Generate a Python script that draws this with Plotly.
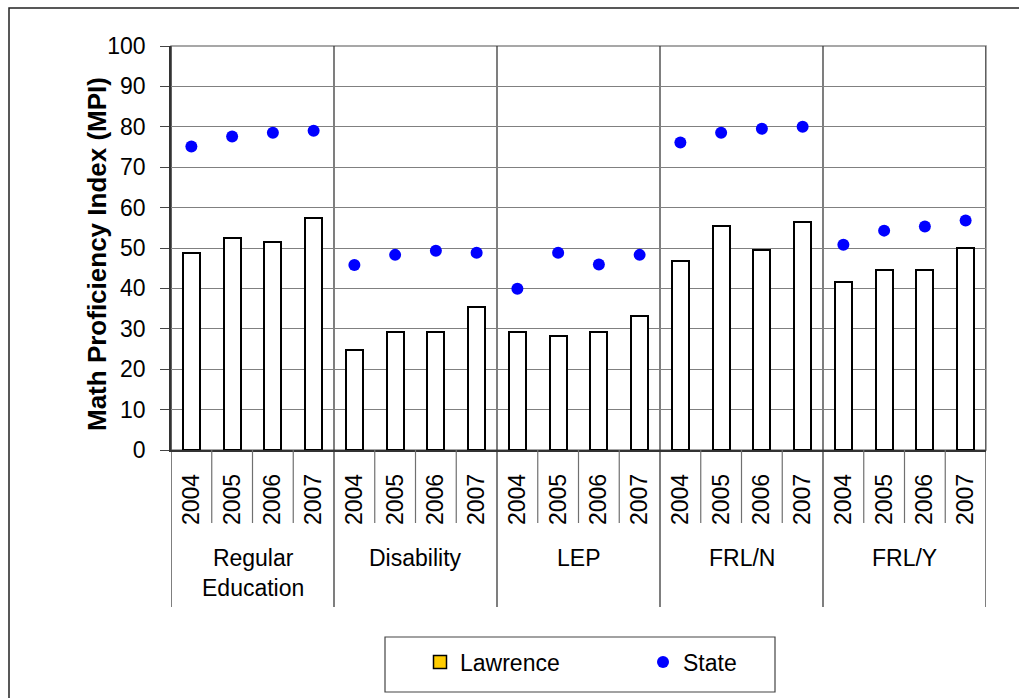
import plotly.graph_objects as go

# ---- data ----
groups = ["Regular<br>Education", "Disability", "LEP", "FRL/N", "FRL/Y"]
years = ["2004", "2005", "2006", "2007"]
lawrence = [
    [48.7, 52.6, 51.6, 57.5],
    [24.8, 29.3, 29.3, 35.3],
    [29.3, 28.3, 29.3, 33.2],
    [46.7, 55.5, 49.6, 56.5],
    [41.7, 44.6, 44.6, 50.1],
]
state = [
    [75.1, 77.6, 78.5, 79.0],
    [45.8, 48.3, 49.3, 48.8],
    [39.9, 48.8, 45.9, 48.3],
    [76.1, 78.5, 79.5, 80.0],
    [50.8, 54.3, 55.3, 56.8],
]
y_ticks = [0, 10, 20, 30, 40, 50, 60, 70, 80, 90, 100]

# ---- layout geometry (pixels) ----
W, H = 1019, 698
L, R, T, B = 171, 986, 46, 450
PW, PH = R - L, B - T
FONT = "Liberation Sans, Arial, sans-serif"
FS = 23


def px(xp):
    return (xp - L) / PW


def py(yp):
    return (B - yp) / PH


ng, ny = len(groups), len(years)
xs = [gi * ny + yi for gi in range(ng) for yi in range(ny)]
lw_vals = [v for row in lawrence for v in row]
st_vals = [v for row in state for v in row]
year_text = [y for _ in groups for y in years]

fig = go.Figure()
fig.add_trace(go.Bar(
    x=xs, y=lw_vals, width=0.42, name="Lawrence", showlegend=False,
    marker=dict(color="white", line=dict(color="black", width=2)),
))
fig.add_trace(go.Scatter(
    x=[None], y=[None], mode="markers", name="Lawrence",
    marker=dict(symbol="square", size=13, color="#FFCC00",
                line=dict(color="black", width=1.5)),
))
fig.add_trace(go.Scatter(
    x=xs, y=st_vals, mode="markers", name="State",
    marker=dict(size=12, color="#0000FF"),
))

shapes = []
# outer chart border
shapes.append(dict(type="rect", xref="paper", yref="paper",
                   x0=px(9), x1=px(W + 20), y0=py(8), y1=py(H + 20),
                   line=dict(color="#222222", width=1.5), layer="below"))
# plot area border (top/right grey)
shapes.append(dict(type="rect", xref="paper", yref="paper",
                   x0=0, x1=1, y0=0, y1=1,
                   line=dict(color="#8a8a8a", width=1.5), layer="below"))
# group dividers
for gi in range(ng + 1):
    xv = gi * ny - 0.5
    shapes.append(dict(type="line", xref="x", yref="paper",
                       x0=xv, x1=xv, y0=py(607), y1=1,
                       line=dict(color="#3a3a3a", width=1.3), layer="between"))
# year dividers in label area
for gi in range(ng):
    for yi in range(1, ny):
        xv = gi * ny + yi - 0.5
        shapes.append(dict(type="line", xref="x", yref="paper",
                           x0=xv, x1=xv, y0=py(523), y1=0,
                           line=dict(color="#707070", width=1.2)))
# legend box
shapes.append(dict(type="rect", xref="paper", yref="paper",
                   x0=px(385), x1=px(775), y0=py(692), y1=py(637),
                   line=dict(color="#444444", width=1.2), fillcolor="white",
                   layer="below"))

annotations = []
for gi, g in enumerate(groups):
    annotations.append(dict(
        x=gi * ny + (ny - 1) / 2, xref="x", y=py(543), yref="paper",
        text=g, showarrow=False, yanchor="top", xanchor="center",
        font=dict(family=FONT, size=FS, color="black"),
    ))
annotations.append(dict(
    x=px(80), xref="paper", y=py(254), yref="paper",
    text="<b>Math Proficiency Index (MPI)</b>", textangle=-90,
    showarrow=False, font=dict(family=FONT, size=26, color="black"),
))

fig.update_layout(
    width=W, height=H,
    margin=dict(l=L, r=W - R, t=T, b=H - B, pad=0),
    paper_bgcolor="white", plot_bgcolor="white",
    font=dict(family=FONT, size=FS, color="black"),
    shapes=shapes, annotations=annotations,
    bargap=0,
    showlegend=True,
    legend=dict(
        orientation="h", x=px(420), y=py(662), xanchor="left", yanchor="middle",
        bgcolor="rgba(0,0,0,0)", borderwidth=0,
        font=dict(family=FONT, size=FS, color="black"),
        entrywidth=178, itemsizing="trace",
    ),
)
fig.update_xaxes(
    range=[-0.5, ng * ny - 0.5], tickmode="array", tickvals=xs, ticktext=year_text,
    tickangle=-90, ticks="", showgrid=False, zeroline=False,
    showline=True, linecolor="#333333", linewidth=1.5,
    ticklabelstandoff=13, tickfont=dict(family=FONT, size=FS, color="black"),
)
fig.update_yaxes(
    range=[0, 100], tickmode="array", tickvals=y_ticks,
    ticks="outside", ticklen=9, tickcolor="#444444", tickwidth=1.2,
    showgrid=True, gridcolor="#808080", gridwidth=1.2, zeroline=False,
    showline=True, linecolor="#333333", linewidth=1.5,
    ticklabelstandoff=10, tickfont=dict(family=FONT, size=FS, color="black"),
)

fig.write_html("out.html", config={"displayModeBar": False},
               post_script="document.body.style.margin='0';")
